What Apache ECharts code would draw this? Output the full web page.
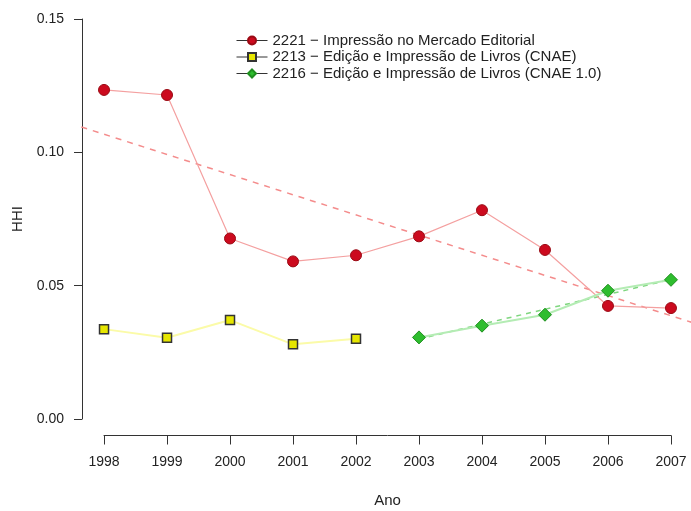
<!DOCTYPE html>
<html>
<head>
<meta charset="utf-8">
<script src="https://cdn.jsdelivr.net/npm/echarts@6/dist/echarts.min.js"></script>
<style>html,body{margin:0;padding:0;background:#fff}#c{width:691px;height:511px}</style>
</head>
<body>
<div id="c"></div>
<script>
const years = [1998, 1999, 2000, 2001, 2002, 2003, 2004, 2005, 2006, 2007];
const xTicks = ['1998','1999','2000','2001','2002','2003','2004','2005','2006','2007'];
const yTicks = ['0.00','0.05','0.10','0.15'];
const names = ['2221 \u2212 Impress\u00e3o no Mercado Editorial',
               '2213 \u2212 Edi\u00e7\u00e3o e Impress\u00e3o de Livros (CNAE)',
               '2216 \u2212 Edi\u00e7\u00e3o e Impress\u00e3o de Livros (CNAE 1.0)'];
const red = [0.1234, 0.1215, 0.0677, 0.0591, 0.0614, 0.0685, 0.0783, 0.0634, 0.0424, 0.0416];
const yellowYears = [1998, 1999, 2000, 2001, 2002];
const yellow = [0.0337, 0.0305, 0.0371, 0.0280, 0.0301];
const greenYears = [2003, 2004, 2005, 2006, 2007];
const green = [0.0306, 0.0350, 0.0391, 0.0481, 0.0522];
const redTrendYears = [1997.64, 2007.36];
const redTrend = [0.1095, 0.0360];
const greenTrendYears = [2003, 2007];
const greenTrend = [0.0300, 0.0523];

const pair = (xs, ys) => xs.map((x, i) => [x, ys[i]]);
const font = '"Liberation Sans", Arial, sans-serif';

const chart = echarts.init(document.getElementById('c'), null, {renderer: 'canvas'});
chart.setOption({
  animation: false,
  backgroundColor: '#fff',
  textStyle: {fontFamily: font},
  legend: {
    data: names,
    orient: 'vertical',
    left: 231, top: 28,
    itemWidth: 31, itemHeight: 10, itemGap: 1.5,
    textStyle: {fontSize: 15, color: '#222', fontFamily: font},
    lineStyle: {color: '#333', width: 1}
  },
  grid: [
    {left: 81.35, top: 3, width: 612.3, height: 432, outerBoundsMode: 'none', containLabel: false},
    {left: 104, top: 20, width: 567, height: 415.5, outerBoundsMode: 'none', containLabel: false},
    {left: 82, top: 19, width: 500, height: 400, outerBoundsMode: 'none', containLabel: false}
  ],
  xAxis: [
    {gridIndex: 0, type: 'value', min: 1997.64, max: 2007.36, show: false},
    {gridIndex: 1, type: 'value', min: 1998, max: 2007, interval: 1, position: 'bottom',
     name: 'Ano', nameLocation: 'middle', nameGap: 58,
     nameTextStyle: {fontSize: 15, color: '#222', fontFamily: font},
     axisLine: {show: true, onZero: false, lineStyle: {color: '#333', width: 1}},
     axisTick: {show: true, length: 9, inside: false, lineStyle: {color: '#333'}},
     axisLabel: {margin: 20, fontSize: 14, color: '#222', fontFamily: font,
                 formatter: v => xTicks[years.indexOf(Math.round(v))] || ''},
     splitLine: {show: false}},
    {gridIndex: 2, type: 'value', min: 0, max: 1, show: false}
  ],
  yAxis: [
    {gridIndex: 0, type: 'value', min: -0.006, max: 0.156, show: false},
    {gridIndex: 1, type: 'value', min: 0, max: 1, show: false},
    {gridIndex: 2, type: 'value', min: 0, max: 0.15, interval: 0.05,
     name: 'HHI', nameLocation: 'middle', nameGap: 50, nameRotate: 90,
     nameTextStyle: {fontSize: 15, color: '#222', fontFamily: font},
     axisLine: {show: true, onZero: false, lineStyle: {color: '#333', width: 1}},
     axisTick: {show: true, length: 8, lineStyle: {color: '#333'}},
     axisLabel: {margin: 18, fontSize: 14, color: '#222', fontFamily: font,
                 formatter: v => yTicks[Math.round(v / 0.05)]},
     splitLine: {show: false}}
  ],
  series: [
    {name: 'redTrend', type: 'line', xAxisIndex: 0, yAxisIndex: 0, clip: false,
     data: pair(redTrendYears, redTrend), showSymbol: false, symbol: 'none',
     lineStyle: {color: '#f48c8c', width: 1.5, type: [6, 6]}, z: 1},
    {name: 'greenTrend', type: 'line', xAxisIndex: 0, yAxisIndex: 0,
     data: pair(greenTrendYears, greenTrend), symbol: 'none',
     lineStyle: {color: '#7fd67f', width: 1.5, type: [5, 5]}, z: 1},
    {name: names[0], type: 'line', xAxisIndex: 0, yAxisIndex: 0,
     data: pair(years, red), symbol: 'circle', symbolSize: 11,
     itemStyle: {color: '#cc0a1e', borderColor: '#9a0a14', borderWidth: 1},
     lineStyle: {color: '#f4a0a0', width: 1.2}, z: 3},
    {name: names[1], type: 'line', xAxisIndex: 0, yAxisIndex: 0,
     data: pair(yellowYears, yellow), symbol: 'rect', symbolSize: 9,
     itemStyle: {color: '#e6e600', borderColor: '#333', borderWidth: 1.5},
     lineStyle: {color: '#fbfba8', width: 2}, z: 3},
    {name: names[2], type: 'line', xAxisIndex: 0, yAxisIndex: 0,
     data: pair(greenYears, green), symbol: 'diamond', symbolSize: 13,
     itemStyle: {color: '#2ebd2e', borderColor: '#1f8f1f', borderWidth: 1},
     lineStyle: {color: '#b4ecb4', width: 2}, z: 3}
  ]
});
</script>
</body>
</html>
